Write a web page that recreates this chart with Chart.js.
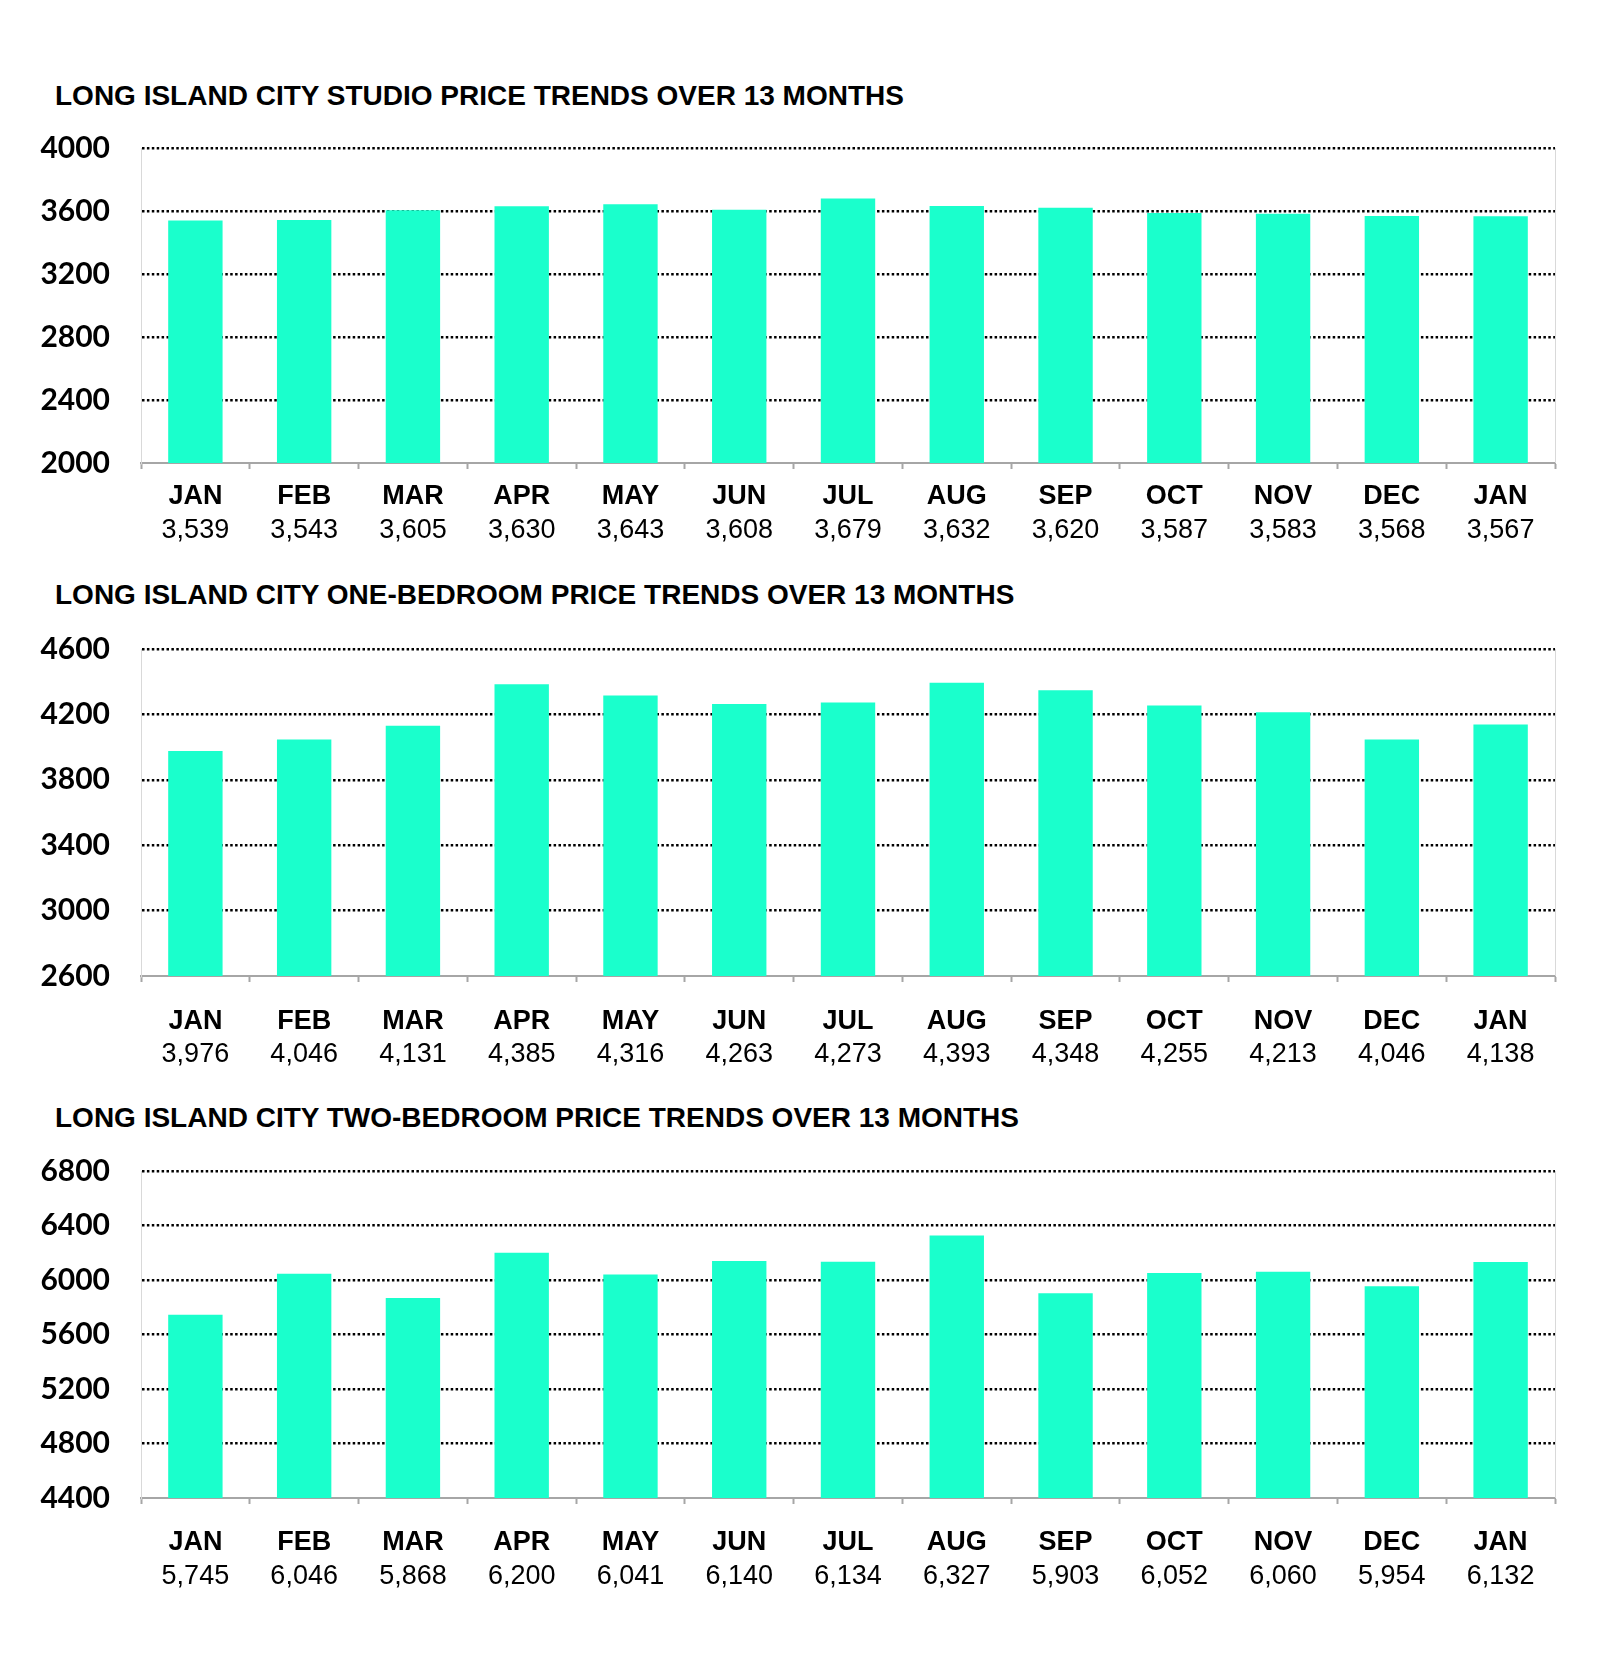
<!DOCTYPE html>
<html>
<head>
<meta charset="utf-8">
<script src="https://cdn.jsdelivr.net/npm/chart.js@4.4.1/dist/chart.umd.min.js"></script>
<style>
body { margin: 0; background: #fff; width: 1600px; height: 1667px; position: relative; overflow: hidden; }
.title { position: absolute; left: 55px; font: bold 28px "Liberation Sans", Arial, sans-serif; color: #000; line-height: 32px; white-space: nowrap; }
canvas { position: absolute; left: 0; }
</style>
</head>
<body>
<div class="title" id="t1">LONG ISLAND CITY STUDIO PRICE TRENDS OVER 13 MONTHS</div>
<div class="title" id="t2">LONG ISLAND CITY ONE-BEDROOM PRICE TRENDS OVER 13 MONTHS</div>
<div class="title" id="t3">LONG ISLAND CITY TWO-BEDROOM PRICE TRENDS OVER 13 MONTHS</div>
<canvas id="c1"></canvas>
<canvas id="c2"></canvas>
<canvas id="c3"></canvas>
<script>
'use strict';

var months = ['JAN', 'FEB', 'MAR', 'APR', 'MAY', 'JUN', 'JUL', 'AUG', 'SEP', 'OCT', 'NOV', 'DEC', 'JAN'];

var studioPrices = [3539, 3543, 3605, 3630, 3643, 3608, 3679, 3632, 3620, 3587, 3583, 3568, 3567];
var oneBedPrices = [3976, 4046, 4131, 4385, 4316, 4263, 4273, 4393, 4348, 4255, 4213, 4046, 4138];
var twoBedPrices = [5745, 6046, 5868, 6200, 6041, 6140, 6134, 6327, 5903, 6052, 6060, 5954, 6132];

var studioTicks = [2000, 2400, 2800, 3200, 3600, 4000];
var oneBedTicks = [2600, 3000, 3400, 3800, 4200, 4600];
var twoBedTicks = [4400, 4800, 5200, 5600, 6000, 6400, 6800];

var BAR_COLOR = '#1affcc';
var AXIS_GREY = '#a6a6a6';
var LIGHT_GREY = '#d9d9d9';
var LABEL_FONT = '"Liberation Sans", Arial, sans-serif';

// thin line on the right edge of the plot
var rightFrame = {
    id: 'rightFrame',
    beforeDatasetsDraw: function(chart) {
        var a = chart.chartArea, ctx = chart.ctx;
        ctx.save();
        ctx.strokeStyle = LIGHT_GREY;
        ctx.lineWidth = 1;
        ctx.beginPath();
        ctx.moveTo(a.right + 0.5, a.top);
        ctx.lineTo(a.right + 0.5, a.bottom);
        ctx.stroke();
        ctx.restore();
    }
};

function fmt(v) {
    return v.toLocaleString('en-US');
}

function makeChart(canvasId, titleId, values, ticks, box) {
    var extra = 100;
    var plotH = box.bottom - box.top;
    var canvas = document.getElementById(canvasId);
    canvas.width = 1600;
    canvas.height = Math.round(plotH + 30 + extra);
    document.getElementById(titleId).style.top = Math.round(box.title - 16) + 'px';

    var half = 27 * 1.2 / 2;
    var h1 = box.month + 16;
    var h2 = extra - h1;

    var chart = new Chart(canvas.getContext('2d'), {
        type: 'bar',
        data: {
            labels: months,
            datasets: [{
                data: values,
                backgroundColor: BAR_COLOR,
                borderWidth: 0,
                barPercentage: 0.5,
                categoryPercentage: 1
            }]
        },
        options: {
            responsive: false,
            maintainAspectRatio: false,
            animation: false,
            devicePixelRatio: 1,
            layout: { padding: { top: 0, right: 45, bottom: 0, left: 0 } },
            plugins: { legend: { display: false }, tooltip: { enabled: false } },
            scales: {
                x: {
                    weight: 1,
                    grid: {
                        offset: true,
                        drawOnChartArea: false,
                        drawTicks: true,
                        tickLength: 6,
                        tickColor: AXIS_GREY,
                        tickWidth: 2
                    },
                    border: { display: true, color: AXIS_GREY, width: 2 },
                    ticks: {
                        color: '#000',
                        autoSkip: false,
                        maxRotation: 0,
                        padding: box.month - 6 - half,
                        font: { family: LABEL_FONT, weight: 'bold', size: 27 }
                    },
                    afterFit: function(s) { s.height = h1; }
                },
                x2: {
                    type: 'category',
                    position: 'bottom',
                    weight: 2,
                    offset: true,
                    labels: values.map(fmt),
                    grid: { display: false, drawTicks: false },
                    border: { display: false },
                    ticks: {
                        color: '#000',
                        autoSkip: false,
                        maxRotation: 0,
                        padding: box.value - h1 - half,
                        font: { family: LABEL_FONT, size: 27 }
                    },
                    afterFit: function(s) { s.height = h2; }
                },
                y: {
                    min: ticks[0],
                    max: ticks[ticks.length - 1],
                    grid: {
                        drawTicks: false,
                        lineWidth: 2.5,
                        color: function(ctx) { return ctx.index === 0 ? 'rgba(0,0,0,0)' : '#000'; }
                    },
                    border: { display: true, color: LIGHT_GREY, width: 1, dash: [2.5, 2.4] },
                    ticks: {
                        stepSize: ticks[1] - ticks[0],
                        color: '#000',
                        padding: 31,
                        font: { family: 'Lato', weight: 'bold', size: 30 },
                        callback: function(v) { return String(v); }
                    },
                    afterFit: function(s) { s.width = 141; }
                }
            }
        },
        plugins: [rightFrame]
    });

    // fit the canvas so the plot area lands where the reference has it
    var diff = plotH - (chart.chartArea.bottom - chart.chartArea.top);
    if (Math.abs(diff) > 0.5) {
        chart.resize(1600, Math.round(canvas.height + diff));
    }
    canvas.style.top = Math.round(box.top - chart.chartArea.top) + 'px';
    return chart;
}

makeChart('c1', 't1', studioPrices, studioTicks, { title: 96, top: 148, bottom: 463, month: 34, value: 68 });
makeChart('c2', 't2', oneBedPrices, oneBedTicks, { title: 595, top: 648.5, bottom: 975, month: 46, value: 79 });
makeChart('c3', 't3', twoBedPrices, twoBedTicks, { title: 1118, top: 1171, bottom: 1498, month: 45, value: 79 });
</script>
</body>
</html>
